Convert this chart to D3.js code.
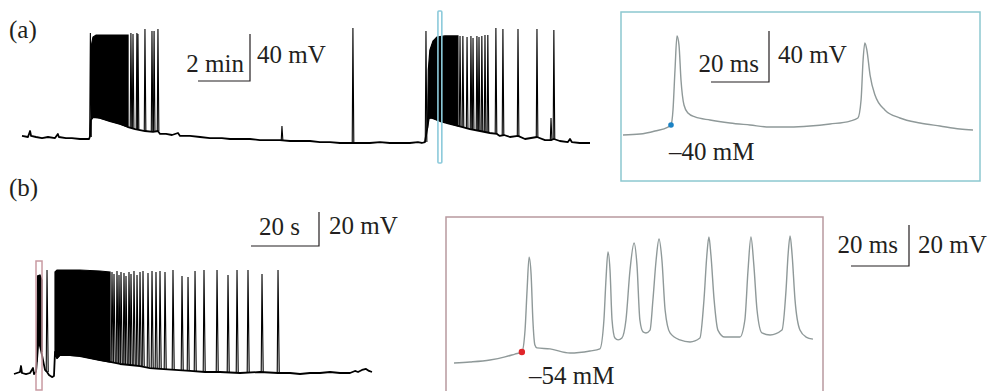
<!DOCTYPE html>
<html><head><meta charset="utf-8">
<script src="https://cdn.jsdelivr.net/npm/d3@7"></script>
<style>
html,body{margin:0;padding:0;background:#fff;}
svg{display:block;}
text{font-family:"Liberation Serif","Times New Roman",serif;fill:#231f20;}
</style>
</head><body>
<svg id="chart" width="991" height="391"></svg>
<script>
// ================= DATA =================
// Panel (a) long recording: time (min), membrane potential (mV)
const aTrace = [[0,-59.1],[0.23,-60],[0.31,-54.9],[0.35,-59.1],[0.54,-60],[0.77,-60.9],[1.0,-60],[1.27,-60.9],[1.38,-57.4],[1.42,-60],[1.69,-60.9],[1.92,-60.9],[2.23,-61.7],[2.46,-61.7],[2.58,-61.7],[2.62,-59.1],[2.65,-45.5],[2.73,-43.0],[3.0,-43.8],[3.38,-46.4],[3.77,-48.9],[4.08,-51.5],[4.35,-53.2],[4.73,-54.9],[5.04,-55.7],[5.23,-54.9],[5.31,-57.4],[5.54,-57.4],[5.77,-58.3],[6.0,-56.6],[6.08,-59.1],[6.46,-59.1],[6.85,-60],[7.23,-60.9],[7.69,-60.9],[8.0,-61.7],[8.38,-61.7],[8.77,-61.7],[9.15,-62.6],[9.54,-62.6],[9.92,-62.6],[10.31,-63.4],[10.69,-63.4],[11.08,-63.4],[11.46,-64.3],[11.85,-64.3],[12.23,-65.1],[12.62,-65.1],[13.0,-65.1],[13.38,-65.1],[13.77,-64.3],[14.15,-65.1],[14.54,-65.1],[14.92,-65.1],[15.23,-64.3],[15.38,-65.1],[15.5,-64.3],[15.58,-54.0],[15.65,-43.8],[15.77,-43.8],[16.08,-46.4],[16.46,-48.9],[16.77,-50.6],[17.23,-53.2],[17.62,-54.9],[18.0,-56.6],[18.27,-57.4],[18.38,-59.1],[18.54,-58.3],[18.77,-60],[19.08,-59.1],[19.35,-61.7],[19.81,-60],[20.12,-62.6],[20.35,-62.6],[20.46,-61.7],[20.69,-63.4],[21.0,-64.3],[21.08,-61.7],[21.15,-64.3],[21.46,-65.1],[21.85,-65.1]];
// dense bursts: [time, upper envelope, lower envelope]
const aBurst1 = [[2.67,18.3,-44.7],[2.73,25.1,-43.0],[2.85,26.8,-43.0],[3.38,26.8,-46.4],[3.77,26.8,-48.9],[4.08,26.8,-51.5]];
const aBurst2 = [[15.6,-49.8,-52.3],[15.63,-3.0,-44.7],[15.69,14.0,-43.8],[15.81,21.7,-43.8],[15.96,25.1,-45.5],[16.27,26.0,-47.2],[16.77,26.0,-50.6]];
// single spikes: [time, peak, base]
const aSpikes = [[2.63,28.5,-60],[4.19,28.5,-52.3],[4.27,27.7,-52.3],[4.42,28.5,-53.2],[4.46,27.7,-53.2],[4.73,31.9,-54.9],[5.0,30.2,-55.7],[5.08,30.2,-55.7],[5.23,31.9,-54.9],[10.0,-50.6,-62.6],[12.73,32.8,-65.1],[15.54,30.2,-64.3],[16.85,26.0,-51.5],[16.96,26.0,-51.5],[17.12,25.1,-52.3],[17.27,26.0,-53.2],[17.35,24.3,-53.2],[17.5,26.0,-54.0],[17.58,25.1,-54.9],[17.69,26.0,-54.9],[17.81,26.8,-55.7],[17.92,26.8,-55.7],[18.23,32.8,-57.4],[18.5,31.9,-58.3],[19.08,31.9,-59.1],[19.81,31.9,-60],[20.35,-43.8,-62.6],[20.46,31.1,-61.7]];
const aHighlight = [16.0, 16.15];          // min, window shown in inset
const aScaleBar = [2, 40];                 // min, mV
const aScaleLabels = ["2 min", "40 mV"];

// Panel (a) inset: time (ms), mV
const aInset = [[0,-47.8],[5.86,-47.1],[11.03,-44.7],[15.52,-41.6],[16.55,-40],[17.24,-28.2],[17.93,3.1],[18.62,29.8],[19.31,22.7],[20.0,-4.7],[21.03,-24.3],[22.41,-30.6],[24.83,-33.7],[30.0,-36.1],[36.9,-38.4],[43.8,-40],[50.7,-41.6],[57.6,-41.6],[64.5,-40.8],[71.4,-39.2],[78.3,-36.9],[81.0,-34.5],[82.1,-20.4],[82.8,11],[83.4,24.3],[84.1,18.8],[85.2,-0.8],[86.9,-16.5],[90.3,-28.2],[95.5,-34.5],[102.4,-38.4],[109.3,-40.8],[116.2,-43.1],[120.7,-43.9]];
const aThreshold = [16.55, -40];
const aThresholdLabel = "–40 mM";
const aInsetScaleBar = [20, 40];           // ms, mV
const aInsetScaleLabels = ["20 ms", "40 mV"];

// Panel (b) long recording: time (s), mV
const bTrace = [[0,-60.6],[0.88,-60],[1.76,-59.4],[2.06,-55.9],[2.35,-60],[3.53,-60.6],[4.71,-60],[5.59,-57.1],[5.88,-60.6],[6.47,-59.4],[6.76,-52.4],[7.21,-40.6],[7.94,-46.5],[8.53,-52.4],[9.12,-58.2],[9.71,-59.4],[10.29,-61.2],[11.18,-62.4],[11.76,-61.8],[12.06,-47.6],[12.65,-51.2],[13.53,-49.4],[16.47,-49.4],[19.41,-50.0],[22.35,-51.2],[25.29,-52.4],[28.24,-53.5],[31.18,-54.7],[34.12,-55.3],[37.06,-55.9],[40.0,-57.1],[42.94,-57.6],[47.35,-58.2],[51.76,-58.8],[56.18,-59.4],[60.59,-59.4],[66.47,-60],[72.35,-59.4],[77.65,-60],[81.18,-60],[84.12,-60.6],[87.06,-60],[90.0,-60],[92.94,-59.4],[95.88,-60],[98.82,-60],[100.29,-58.8],[101.18,-59.4],[102.35,-58.2],[103.53,-57.6],[104.41,-58.8],[105.29,-59.4]];
const bBurst1 = [[6.71,-43.5,-53.5],[6.91,-2.9,-40.6],[7.65,-2.4,-43.5],[8.24,-5.3,-47.6]];
const bBurst2 = [[12.06,-0.6,-47.6],[12.65,0.6,-51.2],[13.53,0.6,-49.4],[19.41,0.6,-50.0],[25.29,0.0,-52.4],[28.24,-0.6,-53.5]];
const bSpikes = [[9.71,0.6,-59.4],[28.82,-0.6,-53.5],[29.41,-1.8,-53.5],[30.29,0.0,-54.1],[30.88,-2.4,-54.1],[31.47,-0.6,-54.7],[32.35,-1.2,-54.7],[32.94,-2.9,-54.7],[33.82,-0.6,-55.3],[34.41,-1.8,-55.3],[35.29,0.0,-55.3],[36.18,-2.4,-55.9],[37.06,-0.6,-55.9],[37.94,0.0,-55.9],[39.41,-1.2,-56.5],[40.59,0.0,-57.1],[41.76,-0.6,-57.1],[42.94,0.0,-57.6],[44.41,-0.6,-57.6],[46.76,0.6,-58.2],[49.41,-2.9,-58.2],[51.18,-3.5,-58.8],[53.24,0.0,-58.8],[55.88,0.6,-59.4],[59.71,0.6,-59.4],[62.94,-2.4,-59.4],[65.59,0.6,-60],[68.82,0.6,-60],[72.94,-1.8,-60],[77.65,0.6,-60]];
const bHighlight = [6.47, 8.24];           // s
const bScaleBar = [20, 20];                // s, mV
const bScaleLabels = ["20 s", "20 mV"];

// Panel (b) inset: time (ms), mV
const bInset = [[0,-59.4],[5.5,-58.9],[12.4,-57.9],[17.6,-56.4],[21.0,-55.0],[23.4,-54],[24.5,-43.3],[25.2,-23.8],[25.9,-7.7],[26.6,-16.4],[27.2,-38.4],[27.9,-50.6],[28.6,-52.0],[33.1,-52.5],[40.0,-54.5],[46.9,-53.5],[50.3,-52.5],[51.7,-38.4],[52.4,-18.9],[53.1,-5.2],[53.8,-14.0],[54.5,-38.4],[55.5,-47.2],[56.6,-48.1],[57.9,-47.2],[59.3,-38.4],[60.7,-14.0],[62.1,-0.8],[63.1,-11.6],[64.1,-38.4],[65.2,-44.2],[66.2,-44.7],[67.6,-43.3],[68.6,-28.6],[69.7,-9.1],[70.7,1.1],[71.7,-9.1],[72.8,-33.5],[74.5,-44.7],[77.9,-48.1],[81.4,-49.1],[84.8,-47.2],[86.2,-28.6],[87.2,-6.7],[87.9,2.1],[88.6,-6.7],[89.7,-28.6],[91.0,-43.3],[93.4,-46.7],[98.6,-46.7],[100.3,-38.4],[101.4,-14.0],[102.4,2.1],[103.4,-11.6],[104.5,-33.5],[106.2,-44.7],[109.0,-45.7],[113.1,-43.3],[114.5,-23.8],[115.2,-6.7],[115.9,2.6],[116.6,-6.7],[117.6,-28.6],[119.3,-43.3],[121.4,-46.7],[123.8,-47.7]];
const bThreshold = [23.4, -54];
const bThresholdLabel = "–54 mM";
const bInsetScaleBar = [20, 20];           // ms, mV
const bInsetScaleLabels = ["20 ms", "20 mV"];

const panelLabels = ["(a)", "(b)"];

// ================= DRAW =================
const svg = d3.select("#chart");
const FS = 25;

// scales
const xA = d3.scaleLinear().domain([0, 21.85]).range([22, 590]);
const yA = d3.scaleLinear().domain([-60, 40]).range([137, 19.5]);
const xAi = d3.scaleLinear().domain([0, 120.7]).range([623, 973]);
const yAi = d3.scaleLinear().domain([-40, 0]).range([125, 74]);
const xB = d3.scaleLinear().domain([0, 105.29]).range([14, 372]);
const yB = d3.scaleLinear().domain([-60, 0]).range([373, 271]);
const xBi = d3.scaleLinear().domain([0, 123.8]).range([454, 813]);
const yBi = d3.scaleLinear().domain([-54, 0]).range([352, 241.3]);

function drawTrace(g, data, xs, ys, color, width, curve) {
  g.append("path").datum(data)
    .attr("fill", "none").attr("stroke", color).attr("stroke-width", width)
    .attr("stroke-linejoin", "round")
    .attr("d", d3.line().x(d => xs(d[0])).y(d => ys(d[1])).curve(curve || d3.curveLinear));
}
function drawBurst(g, data, xs, ys) {
  g.append("path").datum(data)
    .attr("fill", "#000").attr("stroke", "#000").attr("stroke-width", 1.2)
    .attr("d", d3.area().x(d => xs(d[0])).y0(d => ys(d[2])).y1(d => ys(d[1])));
}
function drawSpikes(g, data, xs, ys, wl, wr) {
  g.selectAll(null).data(data).join("path")
    .attr("fill", "none").attr("stroke", "#000").attr("stroke-width", 1.1)
    .attr("d", d => {
      const x = xs(d[0]);
      return d3.line()([[x - wl, ys(d[2])], [x, ys(d[1])], [x + wr, ys(d[2])]]);
    });
}
function drawScaleBar(g, cx, cy, vals, labels, xs, ys, lblH, lblV) {
  const w = xs(vals[0]) - xs(0);
  const h = Math.abs(ys(0) - ys(vals[1]));
  g.append("path").attr("fill", "none").attr("stroke", "#231f20").attr("stroke-width", 1.2)
    .attr("d", `M${cx - w},${cy}H${cx}V${cy - h}`);
  g.append("text").attr("x", lblH[0]).attr("y", lblH[1]).attr("text-anchor", "end")
    .attr("font-size", FS).text(labels[0]);
  g.append("text").attr("x", lblV[0]).attr("y", lblV[1]).attr("text-anchor", "start")
    .attr("font-size", FS).text(labels[1]);
}

// panel labels
svg.append("text").attr("x", 9).attr("y", 38).attr("font-size", FS).text(panelLabels[0]);
svg.append("text").attr("x", 9).attr("y", 196).attr("font-size", FS).text(panelLabels[1]);

// ---- panel (a) main ----
const gA = svg.append("g");
drawTrace(gA, aTrace, xA, yA, "#000", 1.8);
drawBurst(gA, aBurst1, xA, yA);
drawBurst(gA, aBurst2, xA, yA);
drawSpikes(gA, aSpikes, xA, yA, 0.7, 0.9);
gA.append("rect")
  .attr("x", xA(aHighlight[0])).attr("width", xA(aHighlight[1]) - xA(aHighlight[0]))
  .attr("y", 11).attr("height", 152).attr("rx", 1)
  .attr("fill", "none").attr("stroke", "#8ccadb").attr("stroke-width", 1.6);
drawScaleBar(gA, 250, 81, aScaleBar, aScaleLabels, xA, yA, [244, 72], [257, 63]);

// ---- panel (a) inset ----
const gAi = svg.append("g");
gAi.append("rect").attr("x", 621).attr("y", 12).attr("width", 359).attr("height", 169)
  .attr("fill", "none").attr("stroke", "#8cc8d0").attr("stroke-width", 1.5);
drawTrace(gAi, aInset, xAi, yAi, "#8f9999", 1.4, d3.curveMonotoneX);
gAi.append("circle").attr("cx", xAi(aThreshold[0])).attr("cy", yAi(aThreshold[1])).attr("r", 2.8)
  .attr("fill", "#1b82c4");
gAi.append("text").attr("x", 669).attr("y", 160).attr("font-size", FS).text(aThresholdLabel);
drawScaleBar(gAi, 769, 82, aInsetScaleBar, aInsetScaleLabels, xAi, yAi, [759, 72], [778, 63]);

// ---- panel (b) main ----
const gB = svg.append("g");
drawTrace(gB, bTrace, xB, yB, "#000", 1.8);
drawBurst(gB, bBurst1, xB, yB);
drawBurst(gB, bBurst2, xB, yB);
drawSpikes(gB, bSpikes, xB, yB, 0.8, 1.2);
gB.append("rect")
  .attr("x", xB(bHighlight[0])).attr("width", xB(bHighlight[1]) - xB(bHighlight[0]))
  .attr("y", 261).attr("height", 129)
  .attr("fill", "none").attr("stroke", "#c99aa2").attr("stroke-width", 1.5);
drawScaleBar(gB, 319, 246, bScaleBar, bScaleLabels, xB, yB, [300, 235], [329, 234]);

// ---- panel (b) inset ----
const gBi = svg.append("g");
gBi.append("rect").attr("x", 446).attr("y", 217).attr("width", 377).attr("height", 190)
  .attr("fill", "none").attr("stroke", "#b8999f").attr("stroke-width", 1.5);
drawTrace(gBi, bInset, xBi, yBi, "#8f9999", 1.4, d3.curveMonotoneX);
gBi.append("circle").attr("cx", xBi(bThreshold[0])).attr("cy", yBi(bThreshold[1])).attr("r", 3.2)
  .attr("fill", "#e0252a");
gBi.append("text").attr("x", 529).attr("y", 384).attr("font-size", FS).text(bThresholdLabel);
drawScaleBar(gBi, 909, 266, bInsetScaleBar, bInsetScaleLabels, xBi, yBi, [898, 253], [918, 253]);
</script>
</body></html>
